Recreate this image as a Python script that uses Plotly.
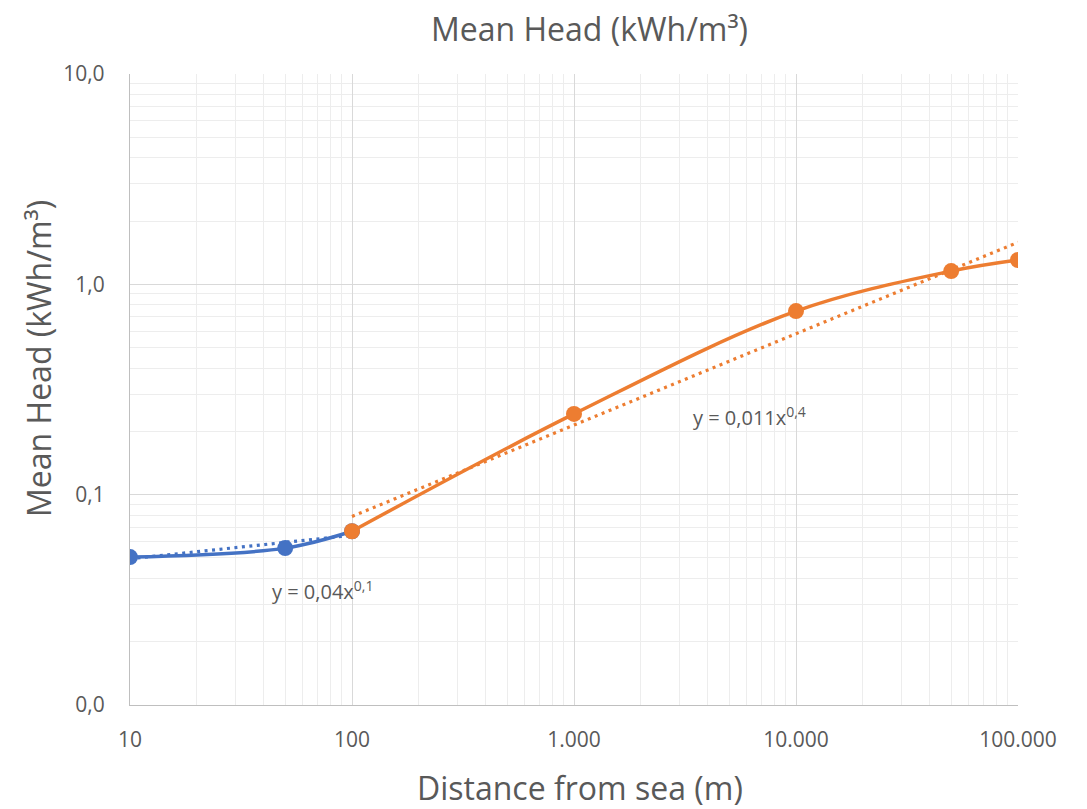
import numpy as np
import plotly.graph_objects as go

# Data
blue_x = [10, 50, 100]
blue_y = [0.0505, 0.0557, 0.067]
orange_x = [100, 1000, 10000, 50000, 100000]
orange_y = [0.067, 0.242, 0.746, 1.156, 1.305]

y_tickvals = [0.01, 0.1, 1, 10]
y_ticktext = ["0,0", "0,1", "1,0", "10,0"]
x_tickvals = [10, 100, 1000, 10000, 100000]
x_ticktext = ["10", "100", "1.000", "10.000", "100.000"]

BLUE = "#4472C4"
ORANGE = "#ED7D31"
GRAY = "#595959"
FONT = "Open Sans"


def power_fit(x, y):
    b, loga = np.polyfit(np.log10(x), np.log10(y), 1)
    return 10 ** loga, b


fig = go.Figure()

# trendlines (power fits)
for xs, ys, col in [(blue_x, blue_y, BLUE), (orange_x, orange_y, ORANGE)]:
    a, b = power_fit(xs, ys)
    tx = np.logspace(np.log10(min(xs)), np.log10(max(xs)), 60)
    fig.add_trace(go.Scatter(x=tx, y=a * tx ** b, mode="lines",
                             line=dict(color=col, width=3.2, dash="3px,4.5px"),
                             hoverinfo="skip", showlegend=False))

fig.add_trace(go.Scatter(x=blue_x, y=blue_y, mode="lines+markers",
                         line=dict(color=BLUE, width=3.5, shape="spline"),
                         marker=dict(color=BLUE, size=16), showlegend=False))
fig.add_trace(go.Scatter(x=orange_x, y=orange_y, mode="lines+markers",
                         line=dict(color=ORANGE, width=3.5, shape="spline"),
                         marker=dict(color=ORANGE, size=16), showlegend=False))

fig.add_annotation(x=1.865, y=-1.455, xref="x", yref="y",
                   text="y = 0,04x<sup>0,1</sup>", showarrow=False,
                   font=dict(family=FONT, size=20, color=GRAY))
fig.add_annotation(x=3.79, y=-0.628, xref="x", yref="y",
                   text="y = 0,011x<sup>0,4</sup>", showarrow=False,
                   font=dict(family=FONT, size=20, color=GRAY))

# titles
fig.add_annotation(x=0.517, y=1.072, xref="paper", yref="paper",
                   text="Mean Head (kWh/m³)", showarrow=False,
                   xanchor="center", yanchor="middle",
                   font=dict(family=FONT, size=32, color=GRAY))
fig.add_annotation(x=0.507, y=-0.13, xref="paper", yref="paper",
                   text="Distance from sea (m)", showarrow=False,
                   xanchor="center", yanchor="middle",
                   font=dict(family=FONT, size=32, color=GRAY))
fig.add_annotation(x=-0.1025, y=0.55, xref="paper", yref="paper",
                   text="Mean Head (kWh/m³)", showarrow=False, textangle=-90,
                   xanchor="center", yanchor="middle",
                   font=dict(family=FONT, size=32, color=GRAY))

fig.update_layout(
    width=1087, height=809,
    margin=dict(l=122, r=77, t=66, b=112),
    paper_bgcolor="white", plot_bgcolor="white",
    font=dict(family=FONT, color=GRAY),
)
fig.update_xaxes(type="log", range=[1, 5], automargin=False,
                 tickvals=x_tickvals, ticktext=x_ticktext,
                 tickfont=dict(size=21, color=GRAY),
                 ticklabelstandoff=16,
                 showgrid=True, gridcolor="#d9d9d9", gridwidth=1.3,
                 minor=dict(showgrid=True, gridcolor="#ededed", dtick="D1"),
                 showline=True, linecolor="#bfbfbf", linewidth=1.3,
                 ticks="", zeroline=False)
fig.update_yaxes(type="log", range=[-2, 1], automargin=False,
                 tickvals=y_tickvals, ticktext=y_ticktext,
                 tickfont=dict(size=21, color=GRAY),
                 ticklabelstandoff=20,
                 showgrid=True, gridcolor="#d9d9d9", gridwidth=1.3,
                 minor=dict(showgrid=True, gridcolor="#ededed", dtick="D1"),
                 showline=True, linecolor="#bfbfbf", linewidth=1.3,
                 ticks="", zeroline=False)

fig.write_html("out.html")
